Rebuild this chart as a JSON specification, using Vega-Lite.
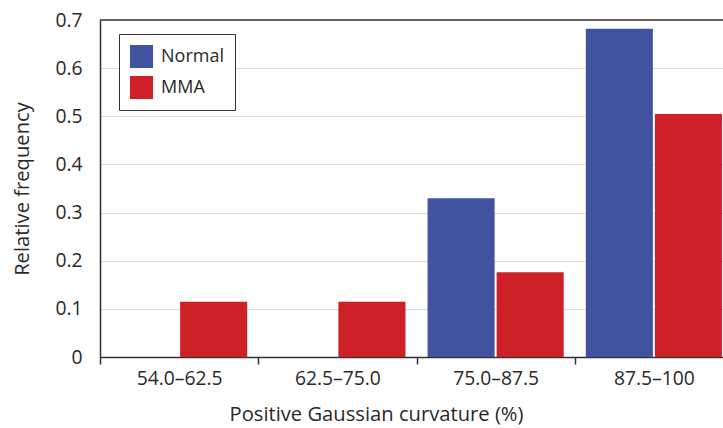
{
  "$schema": "https://vega.github.io/schema/vega-lite/v6.json",
  "width": 623,
  "height": 337,
  "autosize": {"type": "none"},
  "padding": {"left": 100, "top": 20, "right": 0, "bottom": 71},
  "config": {
    "font": "Open Sans",
    "view": {"stroke": null},
    "axis": {"labelColor": "#2a2a2a", "titleColor": "#2a2a2a", "labelFontSize": 19.3, "titleFontSize": 20.2, "titleFontWeight": "normal"}
  },
  "data": {
    "values": [
      {"bin": "54.0–62.5", "group": "Normal", "value": 0},
      {"bin": "54.0–62.5", "group": "MMA", "value": 0.115},
      {"bin": "62.5–75.0", "group": "Normal", "value": 0},
      {"bin": "62.5–75.0", "group": "MMA", "value": 0.115},
      {"bin": "75.0–87.5", "group": "Normal", "value": 0.33},
      {"bin": "75.0–87.5", "group": "MMA", "value": 0.176},
      {"bin": "87.5–100", "group": "Normal", "value": 0.682},
      {"bin": "87.5–100", "group": "MMA", "value": 0.505}
    ]
  },
  "layer": [
    {
      "mark": {"type": "bar"},
      "encoding": {
        "x": {
          "field": "bin", "type": "nominal",
          "sort": ["54.0–62.5", "62.5–75.0", "75.0–87.5", "87.5–100"],
          "scale": {"range": [0, 633], "paddingInner": 0, "paddingOuter": 0},
          "axis": {
            "title": "Positive Gaussian curvature (%)", "titleX": 276,
            "labelAngle": 0, "tickBand": "extent", "tickSize": 7, "tickColor": "#333", "tickWidth": 1.5,
            "domainColor": "#333", "domainWidth": 1.5, "labelPadding": 5, "titlePadding": 16, "grid": false
          }
        },
        "xOffset": {"field": "group", "sort": ["Normal", "MMA"], "scale": {"paddingInner": 0.029, "paddingOuter": 0.16}},
        "y": {
          "field": "value", "type": "quantitative",
          "scale": {"domain": [0, 0.7], "nice": false},
          "axis": {
            "title": "Relative frequency",
            "values": [0, 0.1, 0.2, 0.3, 0.4, 0.5, 0.6, 0.7], "format": "~g",
            "tickSize": 0, "labelPadding": 18, "domainColor": "#333", "domainWidth": 1.5,
            "grid": true, "gridColor": "#dedede", "gridWidth": 1.2, "titlePadding": 22
          }
        },
        "color": {
          "field": "group", "type": "nominal",
          "scale": {"domain": ["Normal", "MMA"], "range": ["#4152A1", "#CD2027"]},
          "legend": {
            "title": null, "orient": "none", "legendX": 19, "legendY": 14,
            "strokeColor": "#333", "fillColor": "white", "padding": 11,
            "symbolType": "square", "symbolSize": 529, "symbolStrokeWidth": 0,
            "rowPadding": 8, "labelOffset": 8, "labelFontSize": 18, "labelColor": "#2a2a2a"
          }
        }
      }
    },
    {
      "data": {"values": [{"v": 0.7}]},
      "mark": {"type": "rule", "color": "#333", "strokeWidth": 1.5},
      "encoding": {"y": {"field": "v", "type": "quantitative"}}
    }
  ]
}
